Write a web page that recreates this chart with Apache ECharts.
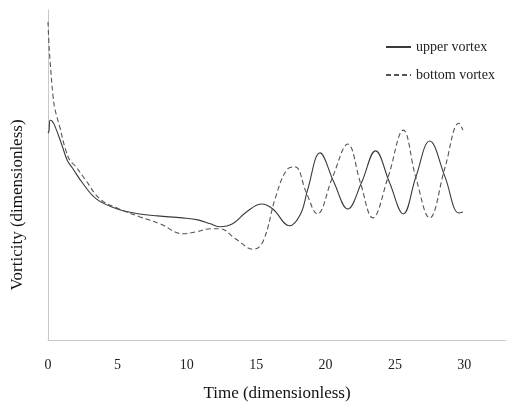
<!DOCTYPE html>
<html>
<head>
<meta charset="utf-8">
<script src="https://cdn.jsdelivr.net/npm/echarts@6/dist/echarts.min.js"></script>
<style>html,body{margin:0;padding:0;background:#fff;}#c{width:508px;height:407px;}</style>
</head>
<body>
<div id="c"></div>
<script>
const xTicks = [0, 5, 10, 15, 20, 25, 30];
const upperT = [0, 0.07, 0.15, 0.3, 0.5, 1.0, 1.4, 1.75, 2.5, 3.5, 5.0, 6.6, 7.9, 9.7, 10.8, 11.7, 12.4, 13.3, 14.3, 15.4, 16.2, 17.4, 18.2, 18.7, 19.6, 20.6, 21.6, 22.6, 23.6, 24.6, 25.6, 26.5, 27.5, 28.6, 29.6, 29.9];
const upperV = [6.27, 6.33, 6.66, 6.63, 6.48, 5.91, 5.43, 5.22, 4.75, 4.27, 3.97, 3.82, 3.76, 3.70, 3.64, 3.52, 3.43, 3.52, 3.88, 4.12, 3.97, 3.46, 3.82, 4.54, 5.67, 4.78, 3.97, 4.78, 5.73, 4.78, 3.82, 4.93, 6.03, 4.95, 3.85, 3.88];
const bottomT = [0, 0.07, 0.15, 0.36, 0.5, 0.87, 1.23, 1.59, 1.95, 2.67, 3.75, 4.97, 6.63, 8.07, 9.73, 10.7, 11.7, 12.4, 13.5, 14.8, 15.5, 16.4, 17.2, 17.8, 18.6, 19.4, 20.5, 21.6, 22.5, 23.4, 24.5, 25.6, 26.5, 27.5, 28.6, 29.6, 29.9];
const bottomV = [9.64, 8.96, 8.45, 7.4, 7.0, 6.42, 5.82, 5.43, 5.28, 4.87, 4.27, 4.0, 3.73, 3.52, 3.22, 3.28, 3.37, 3.37, 3.07, 2.75, 2.99, 4.33, 5.16, 5.25, 4.48, 3.82, 4.93, 5.94, 4.78, 3.70, 4.93, 6.36, 4.93, 3.70, 5.22, 6.57, 6.36];

const font = 'Liberation Serif';
const chart = echarts.init(document.getElementById('c'), null, {renderer: 'canvas'});
chart.setOption({
  animation: false,
  backgroundColor: '#fff',
  grid: {left: 48, right: 2, top: 10, bottom: 62, containLabel: false},
  legend: {
    orient: 'vertical', left: 380, top: 35, itemGap: 14, itemWidth: 25, itemHeight: 12,
    itemStyle: {opacity: 0},
    textStyle: {fontFamily: font, fontSize: 14, color: '#222'},
    data: ['upper vortex', 'bottom vortex']
  },
  xAxis: {
    type: 'value', min: 0, max: 33, interval: 5,
    name: 'Time (dimensionless)', nameLocation: 'middle', nameGap: 45,
    nameTextStyle: {fontFamily: font, fontSize: 17, color: '#111'},
    axisLine: {show: true, lineStyle: {color: '#c8c8c8', width: 1}},
    axisTick: {show: false},
    splitLine: {show: false},
    axisLabel: {fontFamily: font, fontSize: 14, color: '#222', margin: 18, showMaxLabel: false,
      formatter: v => xTicks.includes(v) ? String(v) : ''}
  },
  yAxis: {
    type: 'value', min: 0, max: 10,
    axisLine: {show: true, lineStyle: {color: '#c8c8c8', width: 1}},
    axisTick: {show: false}, axisLabel: {show: false}, splitLine: {show: false}
  },
  graphic: [{
    type: 'text', x: 18, y: 205, rotation: Math.PI / 2,
    style: {text: 'Vorticity (dimensionless)', font: '17px "Liberation Serif"', fill: '#111', align: 'center', verticalAlign: 'middle'}
  }],
  series: [
    {name: 'upper vortex', type: 'line', smooth: 0.4, symbol: 'none',
     lineStyle: {color: '#3a3a3a', width: 1.1, type: 'solid'}, itemStyle: {color: '#3a3a3a'},
     data: upperT.map((t, i) => [t, upperV[i]])},
    {name: 'bottom vortex', type: 'line', smooth: 0.4, symbol: 'none',
     lineStyle: {color: '#555', width: 1.1, type: [5, 3]}, itemStyle: {color: '#555'},
     data: bottomT.map((t, i) => [t, bottomV[i]])}
  ]
});
</script>
</body>
</html>
